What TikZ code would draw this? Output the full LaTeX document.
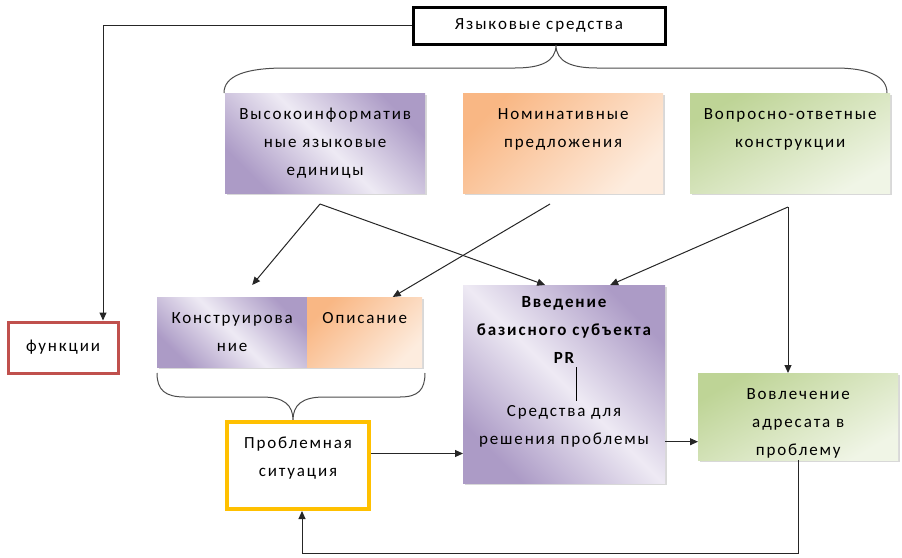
\documentclass[tikz,border=0pt]{standalone}
\usepackage{fontspec}
\setmainfont{Carlito}[LetterSpace=11]
\usetikzlibrary{arrows.meta,positioning,shadows,calc}
\definecolor{lilac dark}{RGB}{172,155,198}
\definecolor{lilac light}{RGB}{238,234,244}
\definecolor{peach dark}{RGB}{249,183,132}
\definecolor{peach light}{RGB}{253,236,222}
\definecolor{sage dark}{RGB}{190,212,150}
\definecolor{sage light}{RGB}{240,245,230}
\definecolor{frame yellow}{RGB}{255,192,0}
\definecolor{frame red}{RGB}{192,80,77}
\tikzset{
    % Colours
    lilac box/.style={top color=lilac dark, bottom color=lilac dark, middle color=lilac light, shading angle=-45},
    peach box/.style={top color=peach dark, bottom color=peach light, shading angle=45},
    sage box/.style={top color=sage dark, bottom color=sage light, shading angle=30},
    %
    % Boxes
    tbox/.code 2 args={\pgfmathsetlengthmacro\tbdepth{#2-40pt}%
        \tikzset{anchor=north west, text width=#1, minimum width=#1, text height=12pt,
                 text depth=\tbdepth, inner xsep=0pt, inner ysep=14pt, align=center}},
    shade box/.style={drop shadow={shadow xshift=2pt, shadow yshift=-2pt, fill=black!30}},
    %
    % Arrows
    arrow tip/.tip={Triangle[length=8pt,width=7pt]},
    arr/.style={-{arrow tip}, line width=1pt, black!85},
    brace line/.style={black!70, line width=1pt},
    every node/.style={font=\fontsize{17}{28}\selectfont}
}

\begin{document}
\begin{tikzpicture}[x=1pt,y=-1pt]
    \useasboundingbox (0,0) rectangle (902,557);

    % top row
    \node[draw, line width=3pt, minimum width=252, minimum height=37] (lang) at (539,25.5) {Языковые средства};
    \node[tbox={200pt}{100}, lilac box, shade box] (hi) at (225,93) {Высокоинформатив\\ные языковые\\единицы};
    \node[tbox={200pt}{100}, peach box, shade box] (nom) at (463,93) {Номинативные\\предложения};
    \node[tbox={200pt}{100}, sage box, shade box] (qa) at (690,93) {Вопросно-ответные\\конструкции};
    \draw[brace line] (224,93) .. controls (224,76) and (245,68) .. (285,68) -- (515,68)
        .. controls (540,68) and (556,62) .. (556,45) .. controls (556,62) and (572,68) .. (597,68)
        -- (835,68) .. controls (868,68) and (887,76) .. (887,93);

    % left side
    \node[draw=frame red, line width=3pt, minimum width=110, minimum height=51] (func) at (63,347.5) {функции};
    \draw[arr] (lang.west) -| ([xshift=40pt]func.north);

    % middle row
    \node[tbox={150pt}{70}, lilac box, shade box] (constr) at (157,297) {Конструирова\\ние};
    \node[tbox={115pt}{70}, peach box, shade box] (descr) at (307,297) {Описание};
    \draw[brace line] (157,373) .. controls (157,390) and (165,397) .. (185,397) -- (262,397)
        .. controls (284,397) and (293,405) .. (293,420) .. controls (293,405) and (302,397) .. (324,397)
        -- (400,397) .. controls (418,397) and (425,390) .. (425,373);
    \node[tbox={142pt}{87}, draw=frame yellow, line width=4pt] (problem) at (225,420) {Проблемная\\ситуация};

    \node[tbox={202pt}{198}, lilac box, shade box] (intro) at (463,285) {};
    \node[align=center, anchor=north, inner sep=4pt, font=\fontsize{17}{28}\selectfont\bfseries] (introhead) at (564,292) {Введение\\базисного субъекта\\PR};
    \node[align=center, anchor=north, inner sep=4pt] (introtools) at (564,401) {Средства для\\решения проблемы};
    \draw ([xshift=12pt]introhead.south) -- ([xshift=12pt]introtools.north);

    \node[tbox={200pt}{87}, sage box, shade box] (invol) at (698,373) {Вовлечение\\адресата в\\проблему};

    % arrows
    \coordinate (hisrc) at (320,204);
    \coordinate (nomsrc) at (550,204);
    \coordinate (qasrc) at (788,207);
    \draw[arr] (hisrc) -- ([shift={(20,-12)}]constr.north);
    \draw[arr] (hisrc) -- ([xshift=-19pt]intro.north);
    \draw[arr] (nomsrc) -- ([xshift=28pt]descr.north);
    \draw[arr] (qasrc) -- ([xshift=46pt]intro.north);
    \draw[arr] (qasrc) -- (qasrc |- invol.north);

    \coordinate (probout) at ([yshift=12pt]problem.east);
    \draw[arr] (probout) -- (probout -| intro.west);
    \coordinate (involin) at ([yshift=-25pt]invol.west);
    \draw[arr] (involin -| intro.east) -- (involin);
    \draw[arr] (invol.south) -- ++(0,93) -| ([xshift=4pt]problem.south);
\end{tikzpicture}
\end{document}
